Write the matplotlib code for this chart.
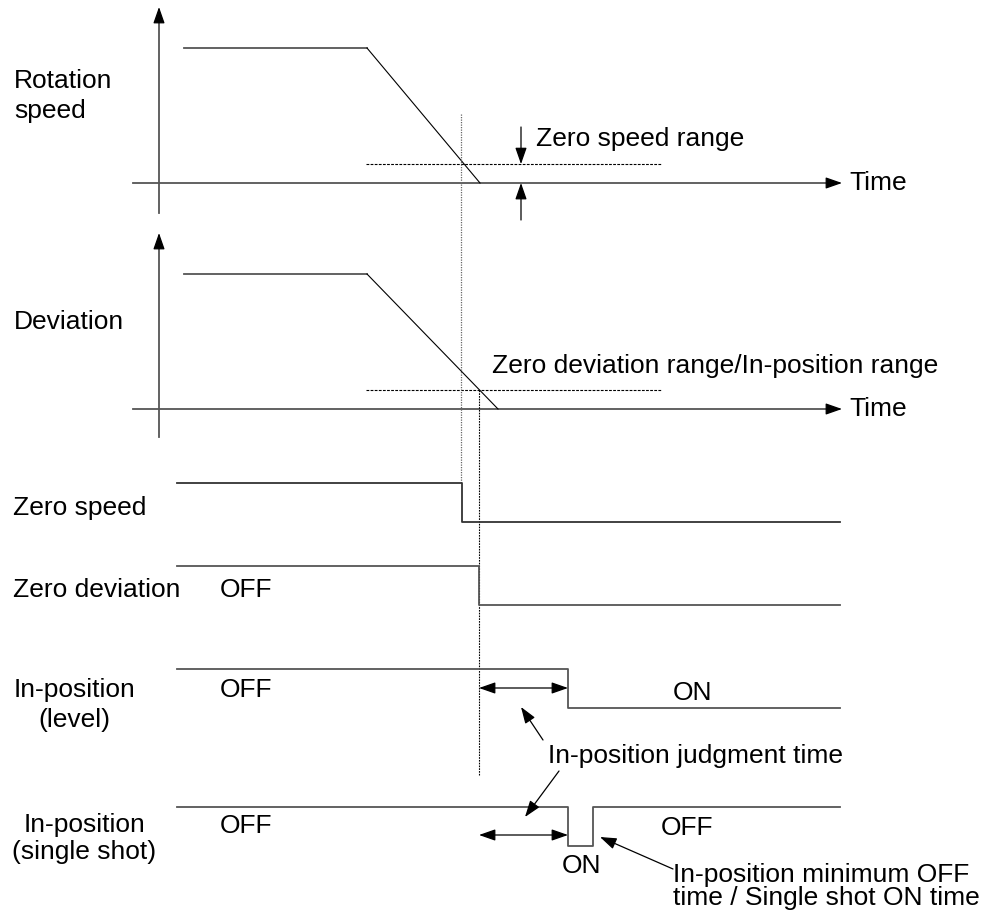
import matplotlib
matplotlib.use("Agg")
import matplotlib.pyplot as plt

plt.rcParams['font.family'] = ['Liberation Sans', 'DejaVu Sans']

# ---- data (time positions and levels, drawing units) ----
row_labels = [["Rotation", "speed"], ["Deviation"], ["Zero speed"], ["Zero deviation"],
              ["In-position", "(level)"], ["In-position", "(single shot)"]]

# analog curves: time points and values (fraction of plateau height)
speed_t = [184, 367, 480]
speed_v = [1.0, 1.0, 0.0]
dev_t = [184, 367, 498]
dev_v = [1.0, 1.0, 0.0]
zero_speed_range = 0.14      # fraction of plateau height
zero_dev_range = 0.14

# digital signals: edges (time) and levels (1 = high, 0 = low)
zs_t = [177, 462, 462, 840]
zs_v = [1, 1, 0, 0]
zd_t = [177, 479, 479, 840]
zd_v = [1, 1, 0, 0]
ipl_t = [177, 568, 568, 840]
ipl_v = [1, 1, 0, 0]
ips_t = [177, 568, 568, 593, 593, 840]
ips_v = [1, 1, 0, 0, 1, 1]

# layout
W, H = 989, 921
fig = plt.figure(figsize=(W / 100, H / 100), dpi=100)
ax = fig.add_axes([0, 0, 1, 1])
ax.set_xlim(0, W)
ax.set_ylim(H, 0)
ax.axis('off')

FS = 19
lc = '#555555'
lw = 1.3

def arrow(x0, y0, x1, y1, hl=1.0, hw=0.35, col='black', lwid=0.9):
    ax.annotate('', xy=(x1, y1), xytext=(x0, y0),
                arrowprops=dict(arrowstyle=f'-|>,head_length={hl},head_width={hw}',
                                color=col, lw=lwid, shrinkA=0, shrinkB=0,
                                mutation_scale=10))

def darrow(x0, x1, y):
    ax.annotate('', xy=(x1, y), xytext=(x0, y),
                arrowprops=dict(arrowstyle='<|-|>,head_length=1.0,head_width=0.35',
                                color='black', lw=0.9, shrinkA=0, shrinkB=0,
                                mutation_scale=10))

def txt(x, y, s, ha='left'):
    ax.text(x, y, s, fontsize=FS, va='baseline', ha=ha)

# ---- analog panels ----
def analog(t, v, base, top, ytip, ybot, rng):
    ax.plot([159, 159], [ybot, ytip + 10], color=lc, lw=lw)
    arrow(159, ytip + 14, 159, ytip)
    ax.plot([133, 830], [base, base], color=lc, lw=lw)
    arrow(828, base, 842, base)
    txt(849, base + 7, "Time")
    ys = [base - vv * (base - top) for vv in v]
    ax.plot(t[:2], ys[:2], color=lc, lw=lw)
    ax.plot(t[1:], ys[1:], color='black', lw=0.8)
    yr = base - rng * (base - top)
    ax.plot([366, 661], [yr, yr], color='black', lw=0.8, ls=(0, (2.5, 1.2)))
    return yr

yr1 = analog(speed_t, speed_v, 183, 48, 7, 213, zero_speed_range)
yr2 = analog(dev_t, dev_v, 409, 274, 233, 437, zero_dev_range)

txt(14, 88, row_labels[0][0])
txt(14, 118, row_labels[0][1])
txt(14, 329, row_labels[1][0])

# zero speed range arrows
arrow(521, 127, 521, yr1)
arrow(521, 220, 521, 183)
txt(536, 146, "Zero speed range")
txt(492, 373, "Zero deviation range/In-position range")

# dotted vertical markers
ax.plot([461, 461], [114, 483], color='#666666', lw=0.9, ls=(0, (1, 1)))
ax.plot([479, 479], [yr2, 775], color='black', lw=0.8, ls=(0, (1.5, 1)))

# ---- digital signals ----
def digital(t, v, hi, lo, col=lc):
    ys = [lo - vv * (lo - hi) for vv in v]
    ax.plot(t, ys, color=col, lw=lw)

digital(zs_t, zs_v, 483, 522, col='#333333')
digital(zd_t, zd_v, 566, 605)
digital(ipl_t, ipl_v, 669, 708)
digital(ips_t, ips_v, 807, 846)

txt(13, 515, row_labels[2][0])
txt(13, 597, row_labels[3][0])
txt(220, 597, "OFF")
txt(74, 697, row_labels[4][0], ha='center')
txt(74, 727, row_labels[4][1], ha='center')
txt(220, 697, "OFF")
txt(673, 700, "ON")
txt(84, 832, row_labels[5][0], ha='center')
txt(84, 859, row_labels[5][1], ha='center')
txt(220, 833, "OFF")
txt(661, 835, "OFF")
txt(562, 873, "ON")

darrow(479, 568, 688)
darrow(479, 568, 835)

txt(548, 763, "In-position judgment time")
arrow(543, 740, 521, 707)
arrow(559, 771, 525, 817)

arrow(673, 869, 600, 837)
txt(673, 882, "In-position minimum OFF")
txt(673, 905, "time / Single shot ON time")

fig.savefig("out.png", dpi=100)
